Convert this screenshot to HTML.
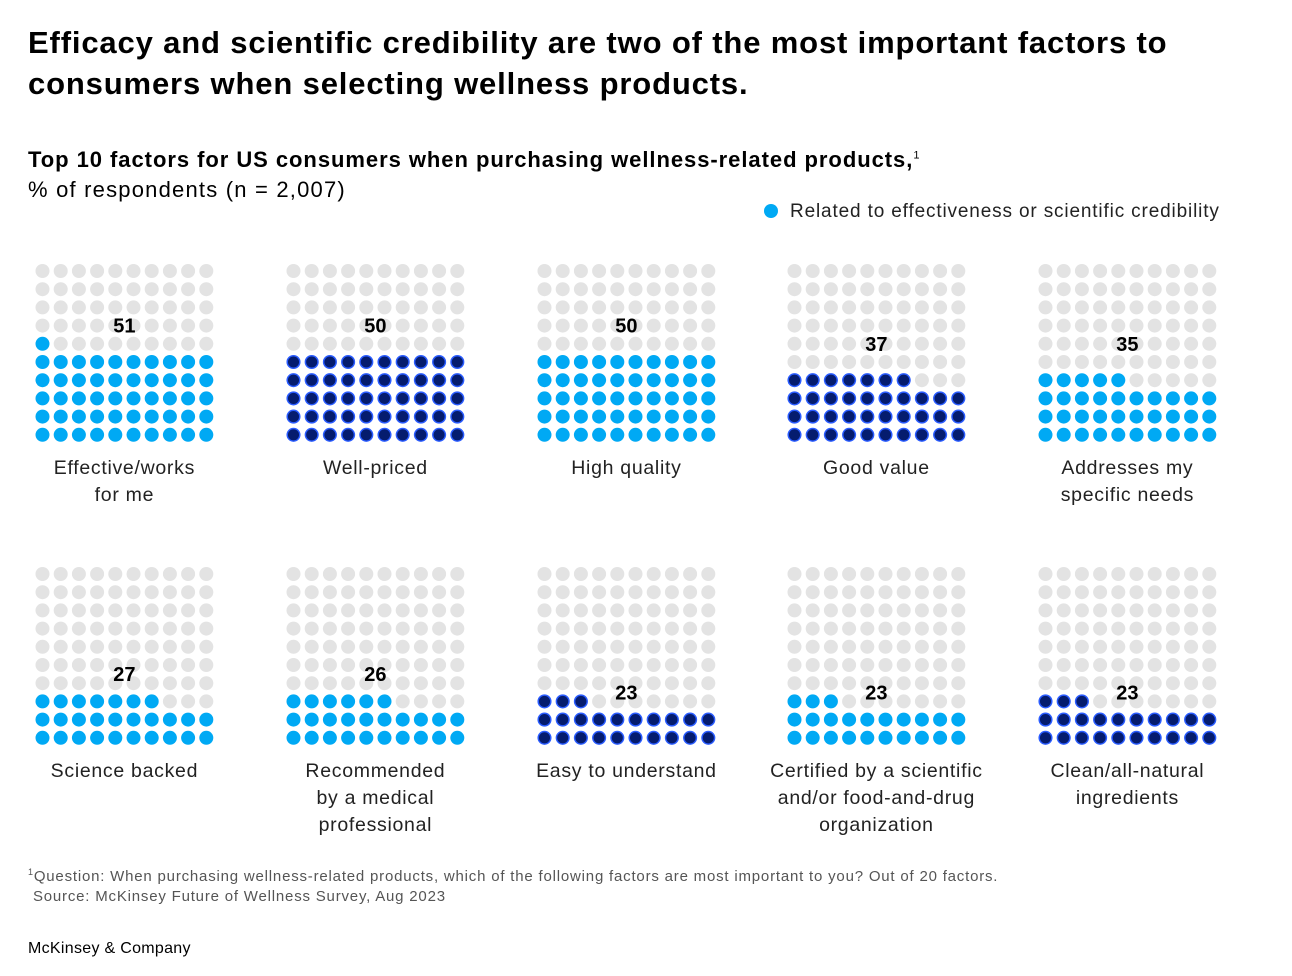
<!DOCTYPE html>
<html><head><meta charset="utf-8"><style>
body{margin:0;background:#fff;font-family:"Liberation Sans",sans-serif;color:#000;}
#root{position:relative;width:1292px;height:976px;overflow:hidden;}
.t{position:absolute;white-space:nowrap;}
</style></head><body>
<div id="root">
<div class="t" style="left:28px;top:22px;font-size:31px;font-weight:bold;line-height:41px;letter-spacing:0.85px;">Efficacy and scientific credibility are two of the most important factors to<br>consumers when selecting wellness products.</div>
<div class="t" style="left:28px;top:147px;font-size:22px;font-weight:bold;letter-spacing:0.95px;">Top 10 factors for US consumers when purchasing wellness-related products,<sup style="font-size:11px;font-weight:normal">1</sup></div>
<div class="t" style="left:28px;top:177px;font-size:22px;letter-spacing:1.2px;">% of respondents (n = 2,007)</div>
<div class="t" style="left:764px;top:201px;font-size:19px;color:#222;letter-spacing:0.85px;"><span style="display:inline-block;width:14px;height:14px;border-radius:50%;background:#00a9f4;margin-right:12px;vertical-align:-1px"></span>Related to effectiveness or scientific credibility</div>
<svg id="svg" width="1292" height="976" style="position:absolute;left:0;top:0"></svg>
<div class="t" style="left:28px;top:862px;font-size:15px;color:#555;line-height:20px;letter-spacing:0.8px;"><sup style="font-size:9px">1</sup>Question: When purchasing wellness-related products, which of the following factors are most important to you? Out of 20 factors.<br>&nbsp;Source: McKinsey Future of Wellness Survey, Aug 2023</div>
<div class="t" style="left:28px;top:940px;font-size:16px;letter-spacing:0.3px;">McKinsey &amp; Company</div>
</div>
<script>
const categories=[["Effective/works","for me"],["Well-priced"],["High quality"],["Good value"],["Addresses my","specific needs"],["Science backed"],["Recommended","by a medical","professional"],["Easy to understand"],["Certified by a scientific","and/or food-and-drug","organization"],["Clean/all-natural","ingredients"]];
const values=[51,50,50,37,35,27,26,23,23,23];
const effectiveness=[true,false,true,false,true,true,true,false,true,false];
const labelRows=[3,3,3,4,4,5.5,5.5,6.5,6.5,6.5];
const svg=document.getElementById('svg');
const NS='http://www.w3.org/2000/svg';
const x0s=[42.5,293.5,544.5,794.5,1045.5], y0s=[271,574], step=18.2;
values.forEach((v,i)=>{
  const px=x0s[i%5], py=y0s[Math.floor(i/5)];
  const g=document.createElementNS(NS,'g');
  
  
  svg.appendChild(g);
  for(let k=0;k<100;k++){
    const r=9-Math.floor(k/10), c=k%10;
    const filled=k<v;
    const ci=document.createElementNS(NS,'circle');
    ci.setAttribute('cx',px+c*step);ci.setAttribute('cy',py+r*step);
    if(filled&&!effectiveness[i]){ci.setAttribute('r',6.3);ci.setAttribute('fill','#051c6e');ci.setAttribute('stroke','#2a5cff');ci.setAttribute('stroke-width','1.5');}
    else{ci.setAttribute('r',7);ci.setAttribute('fill',filled?'#00a9f4':'#e3e3e3');}
    
    
    g.appendChild(ci);
  }
  const cx=px+4.5*step;
  const t=document.createElementNS(NS,'text');
  t.setAttribute('x',cx);t.setAttribute('y',py+labelRows[i]*step+7);
  t.setAttribute('text-anchor','middle');t.setAttribute('font-size','20');t.setAttribute('font-weight','bold');
  t.setAttribute('font-family','Liberation Sans, sans-serif');
  t.textContent=values[i];
  
  
  g.appendChild(t);
  categories[i].forEach((line,j)=>{
    const l=document.createElementNS(NS,'text');
    l.setAttribute('x',cx);l.setAttribute('y',py+203+j*27);
    l.setAttribute('text-anchor','middle');l.setAttribute('font-size','19.5');l.setAttribute('fill','#222');
    l.setAttribute('letter-spacing','0.7');
    l.setAttribute('font-family','Liberation Sans, sans-serif');
    l.textContent=line;
    
    
    g.appendChild(l);
  });
});
</script>
</body></html>
